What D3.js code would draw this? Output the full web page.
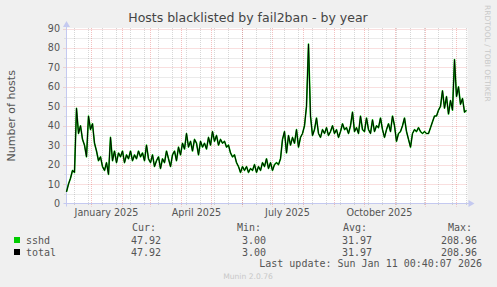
<!DOCTYPE html>
<html lang="en">

<head>
  <meta charset="UTF-8">
  <title>Hosts blacklisted by fail2ban - by year</title>
  <style>
    * {
      padding: 0;
      margin: 0;
    }

    html,
    body {
      width: 497px;
      height: 287px;
      overflow: hidden;
      background: #f0f0f0;
    }

    text {
      font-family: "DejaVu Sans", sans-serif;
    }

    .mono {
      font-family: "DejaVu Sans Mono", monospace;
    }
  </style>
</head>

<body>
  <script src="https://cdn.jsdelivr.net/npm/d3@7"></script>
  <script>
    // range of the munin year graph (400 days up to last update)
    const rangeStart = '2024-12-07T00:40:07'
    const rangeEnd = '2026-01-11T00:40:07'
    // one reading every 2 days
    const firstSample = '2024-12-07T00:40:07'
    const stepDays = 2
    const sshd = [
      6, 10, 13, 17, 16, 49, 36, 40, 33, 30, 24, 45, 38, 41, 31, 27, 22, 24, 19, 17,
      21, 15, 34, 22, 27, 21, 26, 24, 27, 21, 25, 23, 27, 22, 25, 23, 27, 24, 26, 22,
      30, 23, 21, 25, 19, 22, 24, 18, 23, 21, 27, 23, 19, 25, 27, 22, 29, 25, 31, 28,
      36, 29, 32, 27, 33, 31, 25, 32, 29, 31, 28, 34, 30, 37, 32, 35, 30, 33, 31, 32,
      29, 30, 26, 24, 25, 21, 19, 16, 19, 17, 19, 16, 18, 17, 20, 16, 19, 17, 21, 19,
      23, 18, 21, 17, 20, 21, 20, 23, 33, 37, 26, 35, 30, 34, 31, 38, 29, 34, 36, 40,
      50, 82, 45, 35, 38, 44, 36, 34, 38, 36, 39, 35, 37, 40, 36, 38, 34, 37, 41, 38,
      39, 36, 40, 47, 37, 39, 36, 45, 38, 37, 44, 38, 36, 43, 37, 40, 39, 44, 38, 34,
      38, 41, 37, 45, 40, 32, 36, 37, 40, 44, 37, 33, 29, 36, 38, 37, 39, 37, 36, 37,
      36, 36, 39, 42, 45, 45, 48, 50, 58, 49, 55, 46, 53, 48, 74, 55, 60, 51, 54, 47,
      47.92
    ]
    const total = sshd.slice()

    const yTicks = [0, 10, 20, 30, 40, 50, 60, 70, 80, 90]
    const yMinor = [5, 15, 25, 35, 45, 55, 65, 75, 85]
    const labelMonths = ['2025-01-01', '2025-04-01', '2025-07-01', '2025-10-01']
    // minor grid: every other sunday
    const minorGridFrom = '2024-12-15'
    const minorGridDays = 14

    const legendNames = ['sshd', 'total']
    const legendColors = ['#00cc00', '#000000']
    const statHeads = ['Cur:', 'Min:', 'Avg:', 'Max:']
    const statValues = [
      ['47.92', '3.00', '31.97', '208.96'],
      ['47.92', '3.00', '31.97', '208.96']
    ]
    const lastUpdate = 'Last update: Sun Jan 11 00:40:07 2026'

    const W = 497, H = 287
    const pLeft = 66.5, pRight = 466.5, pTop = 28, pBottom = 203.5
    const gridColor = 'rgba(130,130,130,0.32)'
    const mgridColor = 'rgba(225,80,80,0.36)'
    const axisColor = '#c4c9f0'
    const textColor = '#555'

    const svg = d3.select('body').append('svg').attr('width', W).attr('height', H)

    const start = new Date(rangeStart), end = new Date(rangeEnd)
    const x = d3.scaleTime().domain([start, end]).range([pLeft, pRight])
    const y = d3.scaleLinear().domain([0, 90]).range([pBottom, pTop + 0.5])

    const t0 = new Date(firstSample)
    const points = sshd.map((v, i) => ({ date: d3.timeDay.offset(t0, i * stepDays), sshd: v, total: total[i] }))

    // canvas
    svg.append('rect').attr('x', pLeft).attr('y', pTop).attr('width', pRight - pLeft + 1).attr('height', pBottom - pTop)
      .attr('fill', '#fff')

    const grid = svg.append('g').attr('stroke-dasharray', '1,1').attr('stroke-width', 1)
    const minorDays = d3.timeDay.range(new Date(minorGridFrom + 'T00:00:00'), end, minorGridDays)
    const months = d3.timeMonth.range(d3.timeMonth.ceil(start), end)

    grid.selectAll('.vmin').data(minorDays).join('line')
      .attr('x1', d => Math.round(x(d)) + 0.5).attr('x2', d => Math.round(x(d)) + 0.5)
      .attr('y1', pTop).attr('y2', pBottom + 2).attr('stroke', gridColor)
    grid.selectAll('.hmin').data(yMinor).join('line')
      .attr('x1', pLeft - 2).attr('x2', pRight + 1)
      .attr('y1', d => Math.round(y(d)) + 0.5).attr('y2', d => Math.round(y(d)) + 0.5).attr('stroke', gridColor)
    grid.selectAll('.vmaj').data(months).join('line')
      .attr('x1', d => Math.round(x(d)) + 0.5).attr('x2', d => Math.round(x(d)) + 0.5)
      .attr('y1', pTop).attr('y2', pBottom + 3).attr('stroke', mgridColor)
    grid.selectAll('.hmaj').data(yTicks.slice(1)).join('line')
      .attr('x1', pLeft - 3).attr('x2', pRight + 1)
      .attr('y1', d => Math.round(y(d)) + 0.5).attr('y2', d => Math.round(y(d)) + 0.5).attr('stroke', mgridColor)

    // axes with arrows
    const ax = svg.append('g').attr('stroke', axisColor).attr('fill', axisColor)
    ax.append('line').attr('x1', pLeft - 3).attr('x2', pRight + 4).attr('y1', pBottom).attr('y2', pBottom)
    ax.append('line').attr('x1', pLeft).attr('x2', pLeft).attr('y1', pBottom + 3).attr('y2', pTop - 3)
    ax.append('path').attr('stroke', 'none')
      .attr('d', `M${pRight + 8},${pBottom} L${pRight + 2},${pBottom - 3.5} L${pRight + 2},${pBottom + 3.5} Z`)
    ax.append('path').attr('stroke', 'none')
      .attr('d', `M${pLeft},${pTop - 7} L${pLeft - 3.5},${pTop - 1} L${pLeft + 3.5},${pTop - 1} Z`)

    // y tick labels
    svg.append('g').selectAll('text').data(yTicks).join('text')
      .attr('x', 60).attr('y', d => y(d) + 3.5).attr('text-anchor', 'end')
      .attr('font-size', 9.6).attr('fill', textColor).text(d => d)

    // x labels sit mid-month
    const fmt = d3.timeFormat('%B %Y')
    svg.append('g').selectAll('text').data(labelMonths.map(d => new Date(d + 'T00:00:00'))).join('text')
      .attr('x', d => x(d3.timeDay.offset(d, 15))).attr('y', 215.5).attr('text-anchor', 'middle')
      .attr('font-size', 9.6).attr('fill', textColor).text(fmt)

    // series
    const line = key => d3.line().x(d => x(d.date)).y(d => y(d[key]))
    svg.append('path').datum(points).attr('d', line('sshd'))
      .attr('fill', 'none').attr('stroke', legendColors[0]).attr('stroke-width', 1.6).attr('stroke-linejoin', 'round')
    svg.append('path').datum(points).attr('d', line('total'))
      .attr('fill', 'none').attr('stroke', legendColors[1]).attr('stroke-width', 1).attr('stroke-linejoin', 'round')

    // titles
    svg.append('text').attr('x', 248).attr('y', 22).attr('text-anchor', 'middle')
      .attr('font-size', 12.5).attr('fill', '#444').text('Hosts blacklisted by fail2ban - by year')
    svg.append('text').attr('transform', `translate(15, ${(pTop + pBottom) / 2}) rotate(-90)`)
      .attr('text-anchor', 'middle').attr('font-size', 11).attr('fill', textColor).text('Number of hosts')
    svg.append('text').attr('transform', 'translate(485, 5) rotate(90)')
      .attr('font-size', 7.5).attr('fill', '#c8c8c8').text('RRDTOOL / TOBI OETIKER')

    // legend
    const colEnds = [161, 266, 372, 477]
    const lg = svg.append('g').attr('class', 'mono').attr('font-size', 10).attr('fill', textColor)
    lg.selectAll('.head').data(statHeads).join('text').attr('class', 'mono')
      .attr('x', (d, i) => colEnds[i] - 29).attr('y', 231).text(d => d)
    legendNames.forEach((name, r) => {
      const yy = 244 + r * 12
      lg.append('rect').attr('x', 14).attr('y', yy - 7).attr('width', 6).attr('height', 6).attr('fill', legendColors[r])
      lg.append('text').attr('class', 'mono').attr('x', 26).attr('y', yy).text(name)
      lg.selectAll('.v' + r).data(statValues[r]).join('text').attr('class', 'mono')
        .attr('x', (d, i) => colEnds[i]).attr('y', yy).attr('text-anchor', 'end').text(d => d)
    })
    lg.append('text').attr('class', 'mono').attr('x', 482).attr('y', 267).attr('text-anchor', 'end').text(lastUpdate)

    svg.append('text').attr('x', 248).attr('y', 279).attr('text-anchor', 'middle')
      .attr('font-size', 7.6).attr('fill', '#c8c8c8').text('Munin 2.0.76')
  </script>
</body>

</html>
